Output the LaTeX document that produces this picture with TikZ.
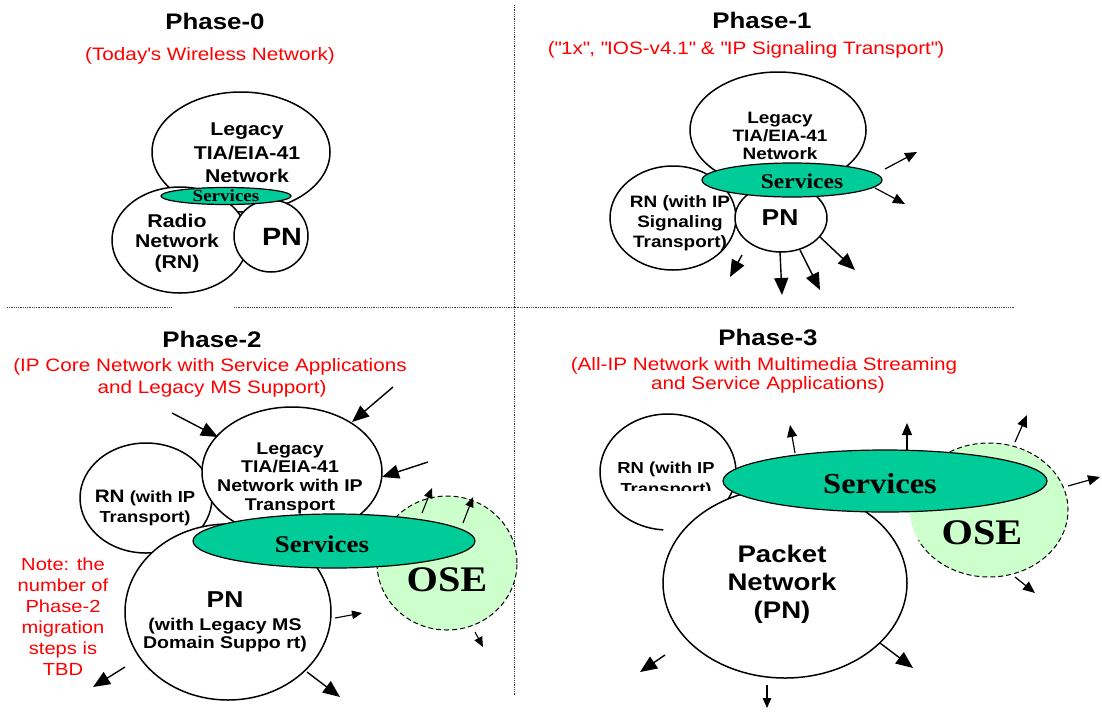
\documentclass[tikz,border=0pt]{standalone}
\usepackage{fontspec}
\setmainfont[FakeStretch=1.15]{Liberation Sans}
\newfontfamily\servfont[FakeStretch=1.12]{Liberation Serif}
\usetikzlibrary{shapes.geometric,arrows.meta}
\definecolor{servgreen}{RGB}{0,204,153}
\definecolor{oselight}{RGB}{204,255,204}
\definecolor{notered}{RGB}{255,0,0}
\newcommand{\dq}{\textquotedbl}
\begin{document}
\begin{tikzpicture}[x=1pt,y=-1pt,
  net/.style={ellipse, draw=black, line width=1.5pt, fill=white, inner sep=0pt, outer sep=0pt},
  serv/.style={ellipse, draw=black, line width=1.2pt, fill=servgreen, inner sep=0pt, outer sep=0pt},
  osebox/.style={ellipse, fill=oselight, inner sep=0pt, outer sep=0pt},
  osedash/.style={draw=black, dash pattern=on 5pt off 3pt, line width=1pt},
  titlet/.style={font=\fontsize{22.5}{26}\selectfont\bfseries, anchor=base, inner sep=0pt},
  subt/.style={font=\fontsize{18}{22}\selectfont, text=notered, anchor=base, inner sep=0pt},
  lbl/.style={align=center, inner sep=0pt},
  servtext/.style={inner sep=0pt},
  arrbig/.style={-{Triangle[length=17pt,width=14pt]}, line width=1.4pt},
  arrmid/.style={-{Triangle[length=12pt,width=10pt]}, line width=1.2pt},
  arrsmall/.style={-{Triangle[length=10pt,width=8.5pt]}, line width=1.1pt},
  sepline/.style={densely dotted, line width=0.8pt, black!75}]
\useasboundingbox (0,0) rectangle (1102,713);

% ---------- separators ----------
\coordinate (vt) at (514,5); \coordinate (vb) at (514,695);
\coordinate (h1a) at (7,307); \coordinate (h1b) at (172,307);
\coordinate (h2a) at (234,307); \coordinate (h2b) at (1015,307);
\draw[sepline] (vt) -- (vb);
\draw[sepline] (h1a) -- (h1b);
\draw[sepline] (h2a) -- (h2b);

% ---------- titles ----------
\node[titlet] (t0) at (215,29) {Phase-0};
\node[subt] (s0) at (210,60) {(Today\textquotesingle s Wireless Network)};
\node[titlet] (t1) at (762,28) {Phase-1};
\node[subt] (s1) at (746,54) {(\dq 1x\dq, \dq IOS-v4.1\dq\ \& \dq IP Signaling Transport\dq)};
\node[titlet] (t2) at (212,347) {Phase-2};
\node[subt] (s2a) at (210,371) {(IP Core Network with Service Applications};
\node[subt] (s2b) at (212,393) {and Legacy MS Support)};
\node[titlet] (t3) at (768,345) {Phase-3};
\node[subt] (s3a) at (764,370) {(All-IP Network with Multimedia Streaming};
\node[subt] (s3b) at (768,389) {and Service Applications)};

% ---------- Phase-0 ----------
\node[net, minimum width=178, minimum height=120] (p0leg) at (241,152) {};
\node[lbl, font=\fontsize{18.5}{23.5}\selectfont\bfseries] (p0legt) at (247,153) {Legacy\\TIA/EIA-41\\Network};
\node[net, minimum width=136, minimum height=106] (p0rn) at (180,240) {};
\node[lbl, font=\fontsize{18.5}{20.5}\selectfont\bfseries] (p0rnt) at (177,243) {Radio\\Network\\(RN)};
\node[net, minimum width=74, minimum height=72] (p0pn) at (271,236) {};
\node[lbl, font=\fontsize{25}{28}\selectfont\bfseries] (p0pnt) at (282,237) {PN};
\node[serv, minimum width=130, minimum height=17] (p0serv) at (226,196) {};
\node[servtext, font=\servfont\fontsize{17}{20}\selectfont\bfseries] (p0servt) at (226,196) {Services};

% ---------- Phase-1 ----------
\node[net, minimum width=176, minimum height=116] (p1leg) at (778,130) {};
\node[lbl, font=\fontsize{16.5}{18}\selectfont\bfseries] (p1legt) at (780,136) {Legacy\\TIA/EIA-41\\Network};
\node[net, minimum width=126, minimum height=104] (p1rn) at (673,218) {};
\node[lbl, font=\fontsize{16.5}{20}\selectfont\bfseries] (p1rnt) at (680,223) {RN (with IP\\Signaling\\Transport)};
\node[net, minimum width=92, minimum height=68] (p1pn) at (781,218) {};
\node[lbl, font=\fontsize{23}{26}\selectfont\bfseries] (p1pnt) at (780,218) {PN};
\node[serv, minimum width=180, minimum height=34] (p1serv) at (792,180) {};
\node[servtext, font=\servfont\fontsize{21}{24}\selectfont\bfseries] (p1servt) at (802,181) {Services};

\coordinate (a1s) at (885,169); \coordinate (a1e) at (917,152);
\coordinate (a2s) at (875,188); \coordinate (a2e) at (905,204);
\coordinate (a3s) at (742,255); \coordinate (a3e) at (730,277);
\coordinate (a4s) at (780,252); \coordinate (a4e) at (782,295);
\coordinate (a5s) at (800,250); \coordinate (a5e) at (820,290);
\coordinate (a6s) at (820,237); \coordinate (a6e) at (855,270);
\draw[arrmid] (a1s) -- (a1e);
\draw[arrmid] (a2s) -- (a2e);
\draw[arrbig] (a3s) -- (a3e);
\draw[arrbig] (a4s) -- (a4e);
\draw[arrbig] (a5s) -- (a5e);
\draw[arrbig] (a6s) -- (a6e);

% ---------- Phase-2 ----------
\node[net, minimum width=132, minimum height=110] (p2rn) at (146,498) {};
\node[lbl, font=\fontsize{16}{20}\selectfont\bfseries] (p2rnt) at (145,508) {{\fontsize{18}{20}\selectfont RN} (with IP\\Transport)};
\node[net, minimum width=180, minimum height=130] (p2leg) at (292,472) {};
\node[lbl, font=\fontsize{17}{18.7}\selectfont\bfseries] (p2legt) at (290,478) {Legacy\\TIA/EIA-41\\Network with IP\\Transport};
\node[net, minimum width=206, minimum height=176] (p2pn) at (228,612) {};
\node[lbl, font=\fontsize{23}{26}\selectfont\bfseries] (p2pnt) at (225,600) {PN};
\node[lbl, font=\fontsize{17}{18}\selectfont\bfseries] (p2pnsub) at (225,635) {(with Legacy MS\\Domain Suppo rt)};
\node[osebox, draw=black, dash pattern=on 5pt off 3pt, line width=1pt, minimum width=140, minimum height=134] (p2ose) at (447,563) {};
\node[servtext, font=\servfont\fontsize{36}{40}\selectfont\bfseries] (p2oset) at (447,580) {OSE};
\node[serv, minimum width=282, minimum height=54] (p2serv) at (334,541) {};
\node[servtext, font=\servfont\fontsize{24}{28}\selectfont\bfseries] (p2servt) at (322,544) {Services};
\node[lbl, font=\fontsize{17.5}{21}\selectfont, text=notered] (note) at (63,617) {Note: the\\number of\\Phase-2\\migration\\steps is\\TBD};

\coordinate (b1s) at (172,413); \coordinate (b1e) at (218,437);
\coordinate (b2s) at (393,387); \coordinate (b2e) at (352,422);
\coordinate (b3s) at (428,462); \coordinate (b3e) at (382,477);
\coordinate (b4s) at (307,672); \coordinate (b4e) at (340,697);
\coordinate (b5s) at (125,667); \coordinate (b5e) at (93,687);
\coordinate (b6s) at (422,513); \coordinate (b6e) at (432,488);
\coordinate (b7s) at (463,523); \coordinate (b7e) at (473,497);
\coordinate (b8s) at (335,618); \coordinate (b8e) at (362,613);
\coordinate (b9s) at (475,632); \coordinate (b9e) at (483,647);
\draw[arrbig] (b1s) -- (b1e);
\draw[arrbig] (b2s) -- (b2e);
\draw[arrbig] (b3s) -- (b3e);
\draw[arrbig] (b4s) -- (b4e);
\draw[arrbig] (b5s) -- (b5e);
\draw[arrsmall] (b6s) -- (b6e);
\draw[arrsmall] (b7s) -- (b7e);
\draw[arrsmall] (b8s) -- (b8e);
\draw[arrsmall] (b9s) -- (b9e);

% ---------- Phase-3 ----------
\coordinate (p3rnc) at (668,472);
\draw[line width=1.5pt] (p3rnc) ++(94:68 and 58) arc[start angle=94, end angle=420, x radius=68, y radius=58];
\begin{scope}
  \clip (590,440) rectangle (760,490);
  \node[lbl, font=\fontsize{16}{21}\selectfont\bfseries] (p3rnt) at (666,480) {RN (with IP\\Transport)};
\end{scope}
\node[net, minimum width=244, minimum height=190] (p3pn) at (785,583) {};
\node[lbl, font=\fontsize{24}{28}\selectfont\bfseries] (p3pnt) at (782,584) {Packet\\Network\\(PN)};
\node[osebox, minimum width=158, minimum height=134] (p3ose) at (989,510) {};
\draw[osedash] (p3ose.center) ++(182:79 and 67) arc[start angle=182, end angle=513, x radius=79, y radius=67];
\node[servtext, font=\servfont\fontsize{36}{40}\selectfont\bfseries] (p3oset) at (982,533) {OSE};
\node[serv, minimum width=324, minimum height=62] (p3serv) at (885,481) {};
\node[servtext, font=\servfont\fontsize{29}{32}\selectfont\bfseries] (p3servt) at (880,484) {Services};

\coordinate (c1s) at (795,453); \coordinate (c1e) at (790,425);
\coordinate (c2s) at (907,450); \coordinate (c2e) at (907,423);
\coordinate (c3s) at (1015,442); \coordinate (c3e) at (1027,415);
\coordinate (c4s) at (1068,486); \coordinate (c4e) at (1100,477);
\coordinate (c5s) at (1015,577); \coordinate (c5e) at (1035,593);
\coordinate (c6s) at (665,655); \coordinate (c6e) at (640,672);
\coordinate (c7s) at (880,643); \coordinate (c7e) at (913,668);
\coordinate (c8s) at (767,685); \coordinate (c8e) at (767,708);
\draw[arrmid] (c1s) -- (c1e);
\draw[arrmid] (c2s) -- (c2e);
\draw[arrmid] (c3s) -- (c3e);
\draw[arrmid] (c4s) -- (c4e);
\draw[arrmid] (c5s) -- (c5e);
\draw[arrbig] (c6s) -- (c6e);
\draw[arrbig] (c7s) -- (c7e);
\draw[arrsmall] (c8s) -- (c8e);
\end{tikzpicture}
\end{document}
